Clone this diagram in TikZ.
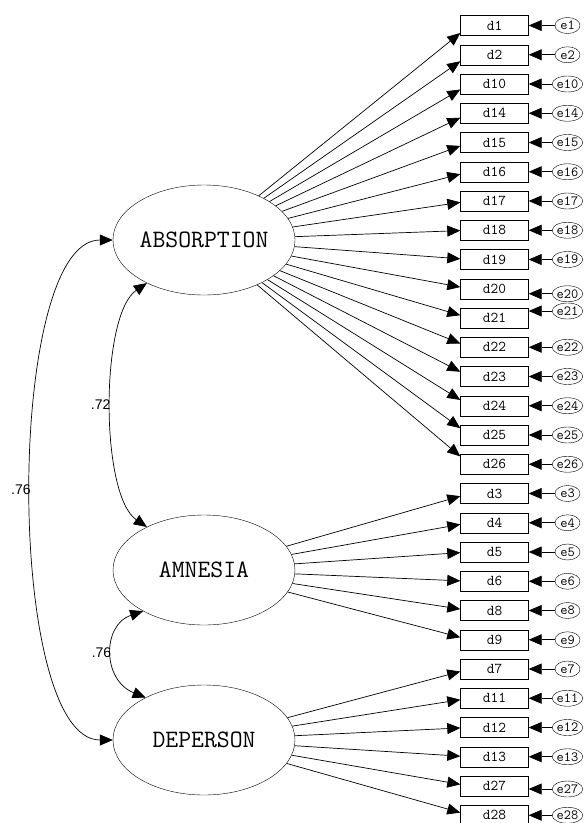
\documentclass[tikz,border=0pt]{standalone}
\usepackage{fontspec}
\newfontfamily\coeffont{Liberation Sans}
\usetikzlibrary{shapes.geometric,arrows.meta}
\begin{document}
\begin{tikzpicture}[x=1pt,y=-1pt,
    latent/.style={draw, ellipse, minimum width=182pt, minimum height=110pt, inner sep=0pt, font=\fontsize{25}{25}\selectfont\ttfamily},
    item/.style={draw, minimum width=68pt, minimum height=20pt, inner sep=0pt, font=\fontsize{15}{15}\selectfont\ttfamily},
    err/.style={draw, ellipse, minimum width=25pt, minimum height=16pt, inner sep=0pt, font=\fontsize{14}{14}\selectfont\ttfamily},
    load/.style={line width=.7pt, -{Triangle[length=13pt,width=11pt]}},
    cov/.style={line width=.7pt, {Triangle[length=13pt,width=11pt]}-{Triangle[length=13pt,width=11pt]}},
    coef/.style={font=\fontsize{14}{14}\selectfont\coeffont, inner sep=1pt}]
\useasboundingbox (0,0) rectangle (584,823);
\node[latent] (abs) at (204,240) {ABSORPTION};
\node[latent] (amn) at (204,570) {AMNESIA};
\node[latent] (dep) at (204,740) {DEPERSON};
\foreach \d/\off [count=\i from 0] in {1/0,2/0,10/0,14/0,15/0,16/0,17/0,18/0,19/0,20/5,21/-7,22/0,23/0,24/0,25/0,26/0,3/0,4/0,5/0,6/0,8/0,9/0,7/0,11/0,12/0,13/0,27/3,28/0} {
    \node[item] (d\d) at (494.5,25.5+29.25*\i) {d\d};
    \node[err] (e\d) at (567.5,25.5+29.25*\i+\off) {e\d};
    \draw[load] (e\d) -- (e\d -| d\d.east);
}
\foreach \d [count=\i from 0] in {1,2,10,14,15,16,17,18,19,20,21,22,23,24,25,26}
    \draw[load] (abs) -- ([yshift={0.035*(25.5+29.25*\i-240)}]d\d.west);
\foreach \d [count=\i from 16] in {3,4,5,6,8,9}
    \draw[load] (amn) -- ([yshift={0.035*(25.5+29.25*\i-570)}]d\d.west);
\foreach \d [count=\i from 22] in {7,11,12,13,27,28}
    \draw[load] (dep) -- ([yshift={0.035*(25.5+29.25*\i-740)}]d\d.west);
\draw[cov] (abs.west) .. controls (5,240) and (5,740) .. (dep.west) node[coef, pos=.5, left] (r1) {.76};
\draw[cov] (abs.217) .. controls (100,315) and (100,495) .. (amn.143) node[coef, pos=.5, left] (r2) {.72};
\draw[cov] (amn.214) .. controls (102,625) and (102,680) .. (dep.144) node[coef, pos=.5, left] (r3) {.76};
\end{tikzpicture}
\end{document}
